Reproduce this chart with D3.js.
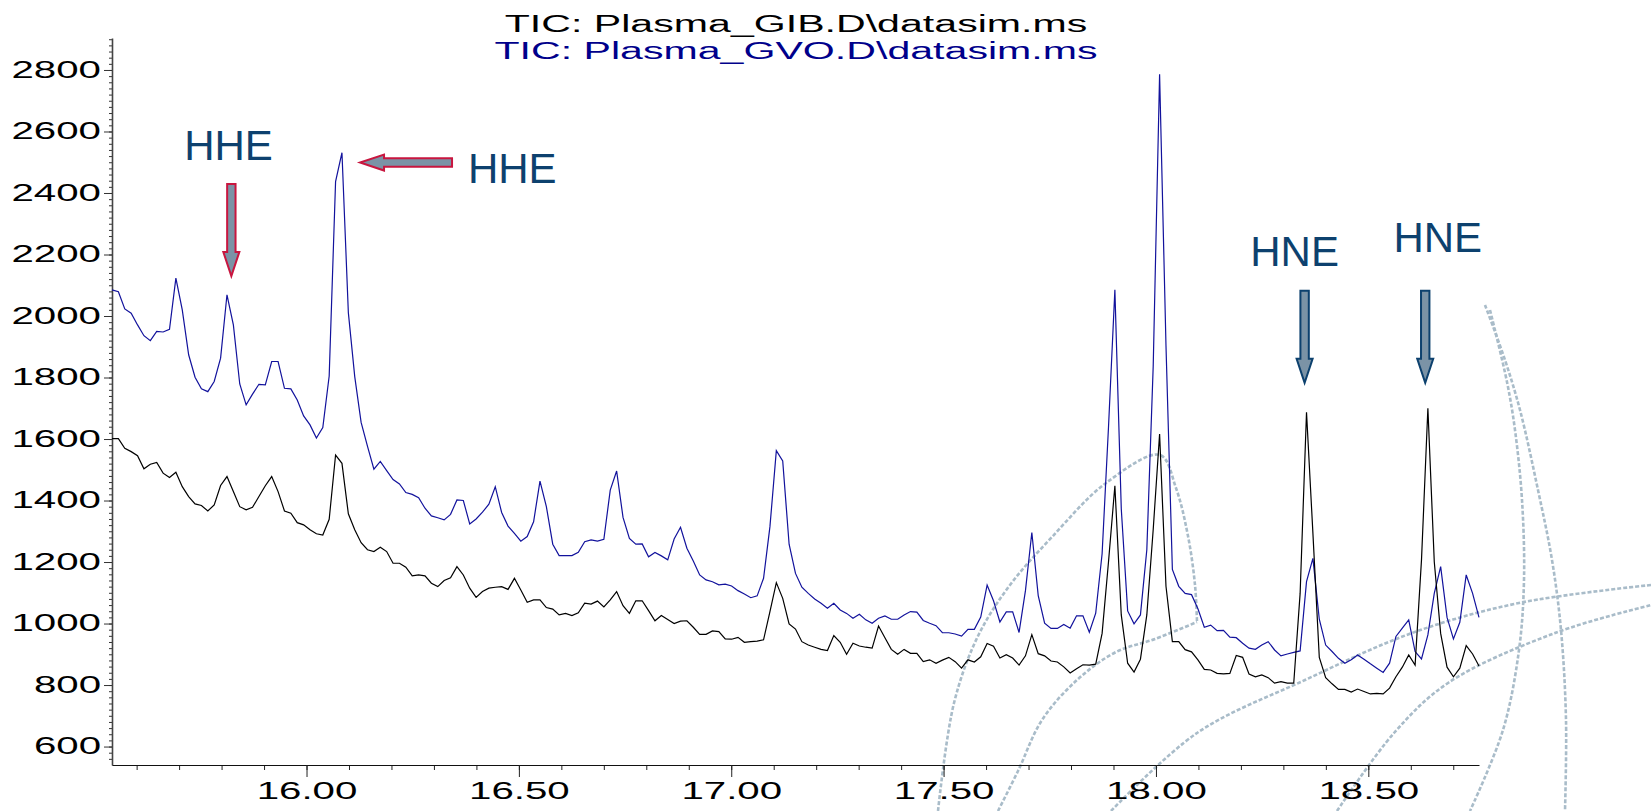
<!DOCTYPE html>
<html>
<head>
<meta charset="utf-8">
<script src="https://cdn.jsdelivr.net/npm/d3@7"></script>
<style>
  body { margin: 0; background: #fff; }
  svg { display: block; }
</style>
</head>
<body>
<div id="chart"></div>
<script>
// scan times (min) : first scan and scan interval of the run
var scanStart = 15.542;
var scanStep = 0.01504;

// TIC: Plasma_GIB.D\datasim.ms (black)
var gibValues = [
  1601,1601,1570,1559,1546,1503,1518,1524,1489,1475,
  1492,1445,1413,1389,1384,1366,1386,1449,1478,1429,
  1380,1370,1378,1413,1448,1478,1429,1366,1359,1328,
  1321,1305,1292,1288,1339,1548,1521,1357,1305,1263,
  1240,1234,1248,1234,1196,1196,1183,1155,1158,1155,
  1131,1120,1140,1149,1185,1158,1115,1085,1104,1115,
  1118,1120,1111,1147,1109,1069,1077,1077,1052,1047,
  1028,1033,1026,1035,1066,1063,1073,1054,1077,1104,
  1058,1033,1074,1074,1042,1009,1026,1013,1000,1008,
  1009,988,965,965,976,974,950,949,955,939,
  941,943,947,1039,1133,1082,999,982,941,930,
  923,916,912,961,939,900,936,927,923,920,
  992,954,916,900,916,903,903,876,882,871,
  881,890,876,855,882,875,892,935,926,888,
  899,888,865,895,964,902,895,878,875,859,
  839,853,866,865,868,968,1200,1448,1028,871,
  842,884,1028,1306,1616,1121,941,941,915,908,
  882,851,849,838,836,838,896,890,836,827,
  833,824,806,811,806,806,1098,1687,1294,890,
  824,804,786,786,777,787,779,771,773,771,
  790,827,858,898,865,1207,1700,1201,968,858,
  827,855,928,901,862
];

// TIC: Plasma_GVO.D\datasim.ms (blue)
var gvoValues = [
  2085,2079,2023,2009,1971,1936,1920,1950,1948,1957,
  2123,2020,1874,1801,1763,1754,1787,1863,2069,1971,
  1779,1711,1746,1778,1776,1852,1852,1765,1763,1727,
  1675,1646,1603,1637,1805,2437,2531,2011,1803,1654,
  1576,1502,1527,1497,1468,1454,1426,1420,1409,1375,
  1350,1344,1337,1355,1402,1400,1324,1340,1362,1388,
  1445,1361,1317,1293,1268,1283,1331,1463,1380,1258,
  1221,1221,1221,1232,1266,1272,1268,1274,1434,1496,
  1345,1277,1258,1259,1217,1231,1220,1207,1275,1313,
  1245,1203,1158,1142,1136,1126,1128,1122,1107,1096,
  1084,1090,1147,1315,1562,1529,1258,1163,1118,1098,
  1080,1066,1050,1066,1044,1033,1017,1030,1012,1001,
  1017,1025,1014,1014,1028,1039,1037,1010,1001,993,
  970,970,966,959,981,981,1021,1125,1074,1005,
  1038,1038,971,1107,1296,1091,1001,984,984,997,
  985,1025,1025,972,1034,1227,1638,2085,1373,1041,
  999,1028,1240,1837,2786,1904,1176,1121,1098,1094,
  1048,988,995,977,978,956,954,936,920,916,
  930,941,914,895,901,906,911,1136,1212,1014,
  930,909,887,871,882,898,884,869,855,841,
  871,958,985,1012,909,885,963,1098,1185,1020,
  950,1004,1158,1098,1020
];

var seriesNames = ["TIC: Plasma_GIB.D\\datasim.ms", "TIC: Plasma_GVO.D\\datasim.ms"];
var yTicks = [600, 800, 1000, 1200, 1400, 1600, 1800, 2000, 2200, 2400, 2600, 2800];
var xTicks = [16.0, 16.5, 17.0, 17.5, 18.0, 18.5];

// annotations: label, text anchor (min, counts), arrow tip (min, counts), arrow direction
var annLabels = ["HHE", "HHE", "HNE", "HNE"];
var annText = [[15.712, 2507], [16.380, 2433], [18.222, 2163], [18.559, 2208]];
var annTip = [[15.823, 2130], [16.126, 2499], [18.350, 1783], [18.634, 1783]];
var annDir = ["down", "left", "down", "down"];

var W = 1651, H = 811;
var SX = 1.75;   // the instrument plot is stretched sideways
var font = "'Liberation Sans', Arial, sans-serif";

var svg = d3.select("#chart").append("svg").attr("width", W).attr("height", H);
svg.append("rect").attr("width", W).attr("height", H).attr("fill", "#fff");

var x = d3.scaleLinear().domain([15.542, 18.7606]).range([112, 1479]);
var y = d3.scaleLinear().domain([540, 2904]).range([765, 38]);

// background rings of the slide template (decoration)
var rings = [
  [[938,811],[954,703],[978,636],[1010,585],[1052,537],[1106,483],[1160,455],[1176,488],[1188,536],[1195,585],[1197,622]],
  [[998,811],[1018,771],[1042,720],[1077,680],[1116,652],[1155,639],[1197,622]],
  [[1111,811],[1197,733],[1305,680],[1412,633],[1519,603],[1651,585]],
  [[1337,811],[1394,733],[1448,683],[1555,633],[1651,605]],
  [[1485,305],[1505,360],[1520,410],[1538,490],[1552,560],[1561,630],[1566,720],[1565,811]],
  [[1490,310],[1507,382],[1515,430],[1522,500],[1524,580],[1519,650],[1503,730],[1470,811]]
];
var ringLine = d3.line().curve(d3.curveCatmullRom);
svg.append("g").selectAll("path")
  .data(rings).enter().append("path")
  .attr("d", ringLine)
  .attr("fill", "none")
  .attr("stroke", "#a9bcc9")
  .attr("stroke-width", 2.6)
  .attr("stroke-dasharray", "4 2");

// axes
function stretchText(sel, dx) {
  sel.selectAll("text")
    .attr("x", dx / SX)
    .attr("transform", "scale(" + SX + ",1)")
    .attr("fill", "#000");
}

svg.append("g").attr("transform", "translate(112,0)")
  .call(d3.axisLeft(y).tickValues(d3.range(560, 2901, 20)).tickSize(3).tickFormat(""))
  .call(function(g) { g.select(".domain").remove(); })
  .selectAll("line").attr("stroke", "#333");

var yAxis = svg.append("g").attr("transform", "translate(112,0)")
  .call(d3.axisLeft(y).tickValues(yTicks).tickSize(8).tickSizeOuter(0).tickFormat(d3.format("d")))
  .attr("font-family", font).attr("font-size", 23);
yAxis.select(".domain").attr("stroke", "#444").attr("stroke-width", 1.6);
yAxis.selectAll("line").attr("stroke", "#333");
stretchText(yAxis, -11);

svg.append("g").attr("transform", "translate(0,765)")
  .call(d3.axisBottom(x).tickValues(d3.range(15.6, 18.75, 0.1)).tickSize(5).tickFormat(""))
  .call(function(g) { g.select(".domain").remove(); })
  .selectAll("line").attr("stroke", "#222");

var xAxis = svg.append("g").attr("transform", "translate(0,765)")
  .call(d3.axisBottom(x).tickValues(xTicks).tickSize(12).tickSizeOuter(0).tickFormat(d3.format(".2f")))
  .attr("font-family", font).attr("font-size", 23);
xAxis.select(".domain").attr("stroke", "#111").attr("stroke-width", 1.2);
xAxis.selectAll("line").attr("stroke", "#222");
stretchText(xAxis, 0);
xAxis.selectAll("text").attr("y", 18);

// chromatogram traces
var line = d3.line()
  .x(function(d, i) { return x(scanStart + i * scanStep); })
  .y(function(d) { return y(d); });

svg.append("path").datum(gvoValues)
  .attr("d", line).attr("fill", "none")
  .attr("stroke", "#12129c").attr("stroke-width", 1.2);

svg.append("path").datum(gibValues)
  .attr("d", line).attr("fill", "none")
  .attr("stroke", "#000").attr("stroke-width", 1.2);

// titles
var titleColors = ["#000", "#00008b"];
svg.append("g").selectAll("text")
  .data(seriesNames).enter().append("text")
  .attr("transform", function(d, i) { return "translate(796," + (32 + i * 27) + ") scale(" + SX + ",1)"; })
  .attr("text-anchor", "middle")
  .attr("font-family", font)
  .attr("font-size", 23.5)
  .attr("fill", function(d, i) { return titleColors[i]; })
  .text(function(d) { return d; });

// peak annotations
var annColor = "#0d416e";
var arrowStroke = { down: ["#c41a40", "#0d416e", "#0d416e"] };
svg.append("g").selectAll("text")
  .data(annLabels).enter().append("text")
  .attr("x", function(d, i) { return x(annText[i][0]); })
  .attr("y", function(d, i) { return y(annText[i][1]); })
  .attr("font-family", font)
  .attr("font-size", 42)
  .attr("fill", annColor)
  .text(function(d) { return d; });

// arrow outline pointing down, tip at origin
var aLen = 92, aShaft = 4.2, aHead = 8, aHeadLen = 24;
var arrowPts = [
  [-aShaft, -aLen], [aShaft, -aLen], [aShaft, -aHeadLen], [aHead, -aHeadLen],
  [0, 0], [-aHead, -aHeadLen], [-aShaft, -aHeadLen]
];
svg.append("g").selectAll("path")
  .data(annLabels).enter().append("path")
  .attr("d", "M" + arrowPts.join("L") + "Z")
  .attr("transform", function(d, i) {
    var rot = annDir[i] === "left" ? 90 : 0;
    return "translate(" + x(annTip[i][0]) + "," + y(annTip[i][1]) + ") rotate(" + rot + ")";
  })
  .attr("fill", "#7b93a6")
  .attr("stroke", function(d, i) { return d === "HHE" ? "#c8163f" : annColor; })
  .attr("stroke-width", 2)
  .attr("stroke-linejoin", "miter");
</script>
</body>
</html>
